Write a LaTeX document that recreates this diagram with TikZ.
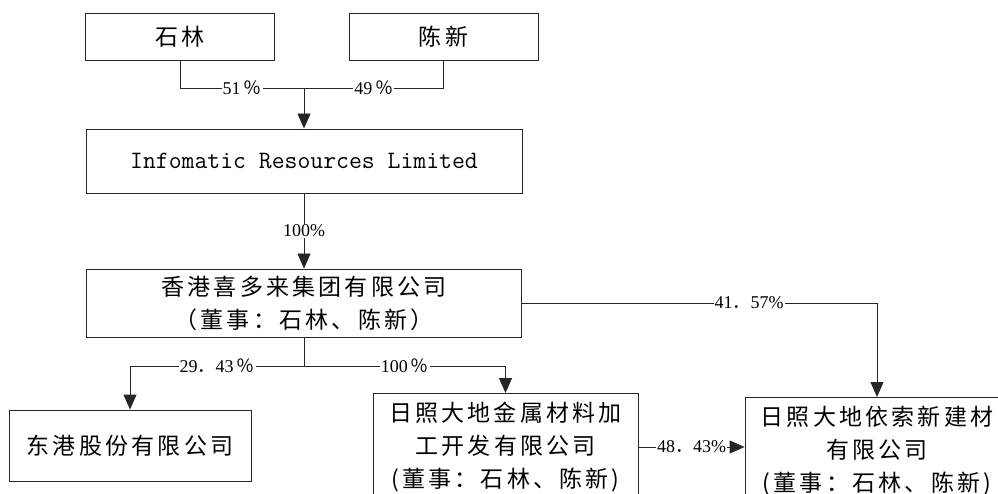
\documentclass[tikz,border=0pt]{standalone}
\usepackage{fontspec}
\setmainfont{Liberation Serif}
\newfontfamily\cjk[LetterSpace=14]{Noto Sans CJK SC}
\newfontfamily\cjkn{Noto Sans CJK SC}
\usetikzlibrary{arrows.meta}
\newcommand\pc{{\cjkn\,％}}
\newcommand\dt{{\cjkn ．}}
\tikzset{
 box/.style={draw=black!85, line width=0.9pt, inner sep=0pt, align=center},
 cn/.style={font=\cjk\fontsize{23}{33}\selectfont},
 lbl/.style={fill=white, inner sep=1pt, font=\fontsize{18}{20}\selectfont},
 conn/.style={draw=black!85, line width=0.9pt},
 arr/.style={conn, -{Triangle[length=15pt,width=13pt]}},
}
\begin{document}
\begin{tikzpicture}[x=1pt,y=-1pt]
\clip (0,0) rectangle (998,494);
\fill[white] (0,0) rectangle (998,494);
\node[box,cn,minimum width=189pt,minimum height=47pt] (shilin) at (180,36.5) {石林};
\node[box,cn,minimum width=189pt,minimum height=47pt] (chenxin) at (443.5,36.5) {陈新};
\node[box,minimum width=436pt,minimum height=64pt,font=\ttfamily\fontsize{25}{30}\selectfont] (info) at (304,161) {Infomatic Resources Limited};
\node[box,cn,minimum width=435pt,minimum height=68pt] (hk) at (304,303) {香港喜多来集团有限公司\\（董事：石林、陈新）};
\node[box,cn,minimum width=242pt,minimum height=71pt] (dg) at (130,445.5) {东港股份有限公司};
\node[box,cn,minimum width=265pt,anchor=north,inner ysep=9pt] (rzjs) at (505.5,393) {日照大地金属材料加\\工开发有限公司\\(董事：石林、陈新)};
\node[box,cn,minimum width=264pt,anchor=north,inner ysep=9pt] (rysx) at (877,397) {日照大地依索新建材\\有限公司\\(董事：石林、陈新)};
\coordinate (j1) at (304,88);
\coordinate (j2) at (304,366);
\coordinate (m) at (0,447);
\draw[conn] (shilin.south) |- node[lbl,pos=0.75]{51\pc} (j1);
\draw[conn] (chenxin.south) |- node[lbl,pos=0.75]{49\pc} (j1);
\draw[arr] (j1) -- (info.north);
\draw[arr] (info.south) -- node[lbl]{100\%} (hk.north);
\draw[conn] (hk.south) -- (j2);
\draw[arr] (j2) -| node[lbl,pos=0.25]{29\dt43\pc} (dg.north);
\draw[arr] (j2) -| node[lbl,pos=0.25]{100\pc} (rzjs.north);
\draw[arr] (hk.east) -| node[lbl,pos=0.32]{41\dt57\%} (rysx.north);
\draw[arr] (rzjs.east |- m) -- node[lbl]{48\dt43\%} (rysx.west |- m);
\end{tikzpicture}
\end{document}
